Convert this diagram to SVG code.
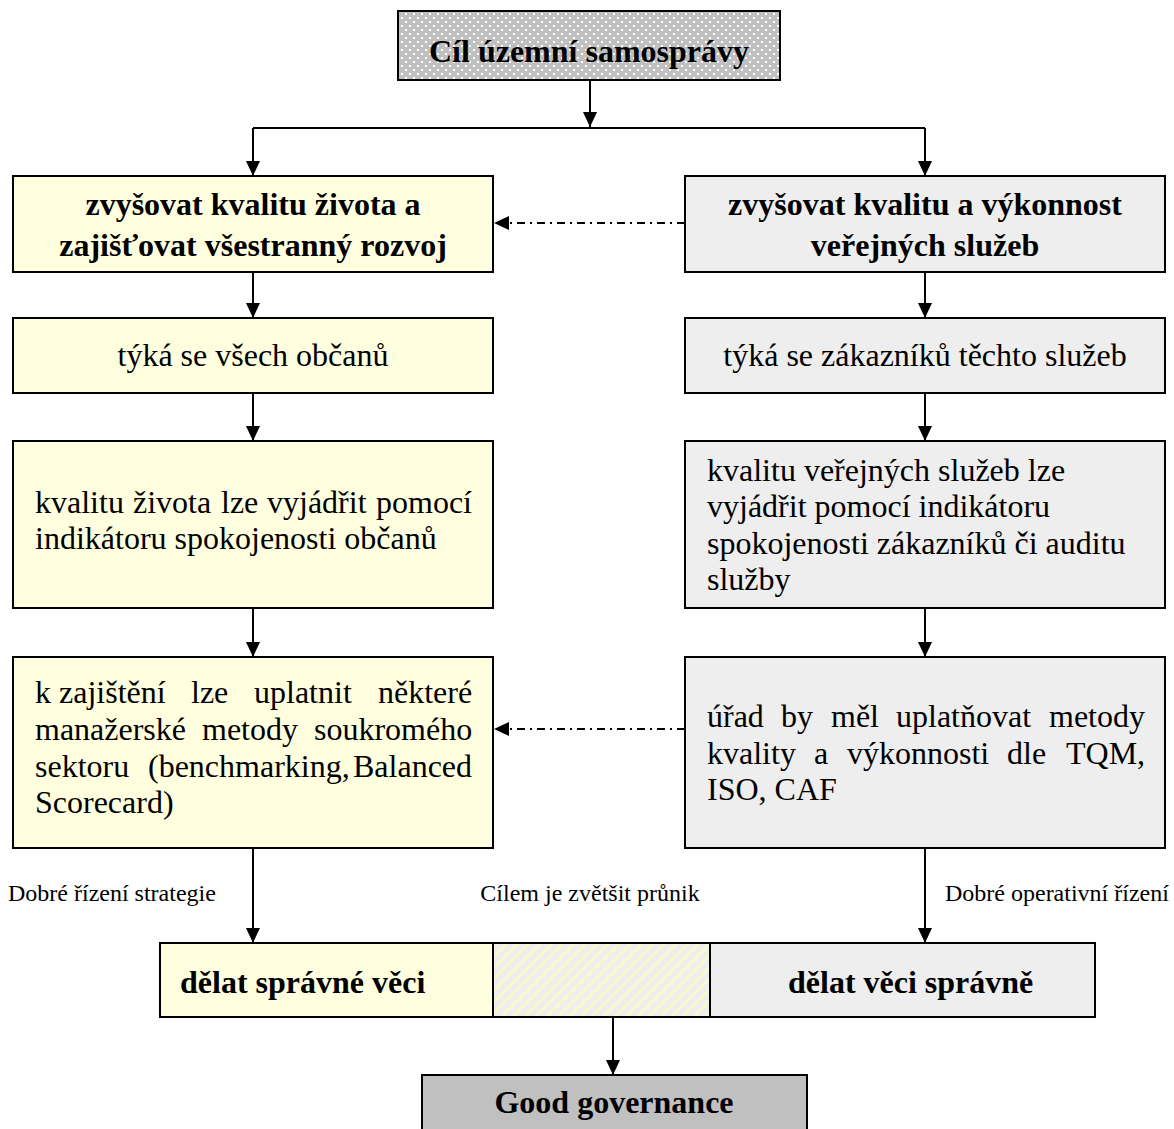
<svg xmlns="http://www.w3.org/2000/svg" width="1174" height="1129" viewBox="0 0 1174 1129">
  <defs>
    <!-- white dot screen on grey for the title box -->
    <pattern id="dots" width="8" height="8" patternUnits="userSpaceOnUse">
      <rect width="8" height="8" fill="#c0c0c0"/>
      <rect x="1" y="1" width="2" height="2" fill="#ffffff"/>
      <rect x="5" y="5" width="2" height="2" fill="#ffffff"/>
    </pattern>
    <!-- pale diagonal hatch for the overlap cell -->
    <pattern id="hatch" width="8" height="8" patternUnits="userSpaceOnUse" patternTransform="rotate(45)">
      <rect width="8" height="8" fill="#eeeeee"/>
      <rect x="0" y="0" width="3" height="8" fill="#f8f8cc"/>
    </pattern>
    <marker id="ah" markerWidth="15" markerHeight="14" refX="15" refY="7" orient="auto" markerUnits="userSpaceOnUse">
      <path d="M0,0 L15,7 L0,14 Z" fill="#000"/>
    </marker>
  </defs>
  <style>
    .box { stroke: #000; stroke-width: 2; }
    .yel { fill: #ffffe0; }
    .gry { fill: #eeeeee; }
    .t { font-family: "Liberation Serif", "Times New Roman", serif; fill: #000; }
    .b { font-weight: bold; font-size: 32px; }
    .n { font-size: 32px; }
    .s { font-size: 24px; }
    .c { text-anchor: middle; }
    .ln { stroke: #000; stroke-width: 2; fill: none; }
    .dd { stroke: #000; stroke-width: 2; fill: none; stroke-dasharray: 8 5 2 5; }
  </style>

  <rect width="1174" height="1129" fill="#ffffff"/>

  <!-- connectors -->
  <g id="connectors">
    <line class="ln" x1="590" y1="80" x2="590" y2="127" marker-end="url(#ah)"/>
    <line class="ln" x1="253" y1="128" x2="925" y2="128"/>
    <line class="ln" x1="253" y1="128" x2="253" y2="176" marker-end="url(#ah)"/>
    <line class="ln" x1="925" y1="128" x2="925" y2="176" marker-end="url(#ah)"/>
    <line class="dd" x1="685" y1="223" x2="494" y2="223" marker-end="url(#ah)"/>
    <line class="ln" x1="253" y1="272" x2="253" y2="318" marker-end="url(#ah)"/>
    <line class="ln" x1="925" y1="272" x2="925" y2="318" marker-end="url(#ah)"/>
    <line class="ln" x1="253" y1="393" x2="253" y2="441" marker-end="url(#ah)"/>
    <line class="ln" x1="925" y1="393" x2="925" y2="441" marker-end="url(#ah)"/>
    <line class="ln" x1="253" y1="608" x2="253" y2="657" marker-end="url(#ah)"/>
    <line class="ln" x1="925" y1="608" x2="925" y2="657" marker-end="url(#ah)"/>
    <line class="dd" x1="685" y1="729" x2="494" y2="729" marker-end="url(#ah)"/>
    <line class="ln" x1="253" y1="848" x2="253" y2="943" marker-end="url(#ah)"/>
    <line class="ln" x1="925" y1="848" x2="925" y2="943" marker-end="url(#ah)"/>
    <line class="ln" x1="613" y1="1017" x2="613" y2="1075" marker-end="url(#ah)"/>
  </g>

  <g id="cil">
    <rect class="box" x="398" y="11" width="382" height="69" fill="url(#dots)"/>
    <text class="t b c" x="589" y="62">Cíl územní samosprávy</text>
  </g>

  <g id="kvalita-zivota">
    <rect class="box yel" x="13" y="176" width="480" height="96"/>
    <text class="t b c" x="253" y="215">zvyšovat kvalitu života a</text>
    <text class="t b c" x="253" y="256">zajišťovat všestranný rozvoj</text>
  </g>

  <g id="kvalita-sluzeb">
    <rect class="box gry" x="685" y="176" width="480" height="96"/>
    <text class="t b c" x="925" y="215">zvyšovat kvalitu a výkonnost</text>
    <text class="t b c" x="925" y="256">veřejných služeb</text>
  </g>

  <g id="obcane">
    <rect class="box yel" x="13" y="318" width="480" height="75"/>
    <text class="t n c" x="253" y="366">týká se všech občanů</text>
  </g>

  <g id="zakaznici">
    <rect class="box gry" x="685" y="318" width="480" height="75"/>
    <text class="t n c" x="925" y="366">týká se zákazníků těchto služeb</text>
  </g>

  <g id="spokojenost-obcanu">
    <rect class="box yel" x="13" y="441" width="480" height="167"/>
    <text class="t n"><tspan x="35" y="513">kvalitu</tspan><tspan x="133">života</tspan><tspan x="221">lze</tspan><tspan x="267">vyjádřit</tspan><tspan x="376">pomocí</tspan></text>
    <text class="t n" x="35" y="549">indikátoru spokojenosti občanů</text>
  </g>

  <g id="spokojenost-zakazniku">
    <rect class="box gry" x="685" y="441" width="480" height="167"/>
    <text class="t n" x="707" y="481">kvalitu veřejných služeb lze</text>
    <text class="t n" x="707" y="517">vyjádřit pomocí indikátoru</text>
    <text class="t n" x="707" y="554">spokojenosti zákazníků či auditu</text>
    <text class="t n" x="707" y="590">služby</text>
  </g>

  <g id="manazerske-metody">
    <rect class="box yel" x="13" y="657" width="480" height="191"/>
    <text class="t n"><tspan x="35" y="703">k zajištění</tspan><tspan x="191">lze</tspan><tspan x="254">uplatnit</tspan><tspan x="378">některé</tspan></text>
    <text class="t n"><tspan x="35" y="740">manažerské</tspan><tspan x="202">metody</tspan><tspan x="314">soukromého</tspan></text>
    <text class="t n"><tspan x="35" y="777">sektoru</tspan><tspan x="148">(benchmarking,</tspan><tspan x="353">Balanced</tspan></text>
    <text class="t n" x="35" y="813">Scorecard)</text>
  </g>

  <g id="metody-kvality">
    <rect class="box gry" x="685" y="657" width="480" height="191"/>
    <text class="t n"><tspan x="707" y="727">úřad</tspan><tspan x="781">by</tspan><tspan x="831">měl</tspan><tspan x="896">uplatňovat</tspan><tspan x="1049">metody</tspan></text>
    <text class="t n"><tspan x="707" y="764">kvality</tspan><tspan x="814">a</tspan><tspan x="847">výkonnosti</tspan><tspan x="1007">dle</tspan><tspan x="1066">TQM,</tspan></text>
    <text class="t n" x="707" y="800">ISO, CAF</text>
  </g>

  <g id="popisky">
    <text class="t s" x="8" y="901">Dobré řízení strategie</text>
    <text class="t s c" x="590" y="901">Cílem je zvětšit průnik</text>
    <text class="t s" x="945" y="901">Dobré operativní řízení</text>
  </g>

  <g id="spravne-veci">
    <rect class="box yel" x="160" y="943" width="333" height="74"/>
    <text class="t b" x="180" y="993">dělat správné věci</text>
  </g>

  <g id="prunik">
    <rect class="box" x="493" y="943" width="217" height="74" fill="url(#hatch)"/>
  </g>

  <g id="veci-spravne">
    <rect class="box gry" x="710" y="943" width="385" height="74"/>
    <text class="t b" x="788" y="993">dělat věci správně</text>
  </g>

  <g id="good-governance">
    <rect class="box" x="422" y="1075" width="385" height="70" fill="#c0c0c0"/>
    <text class="t b c" x="614" y="1113">Good governance</text>
  </g>
</svg>
